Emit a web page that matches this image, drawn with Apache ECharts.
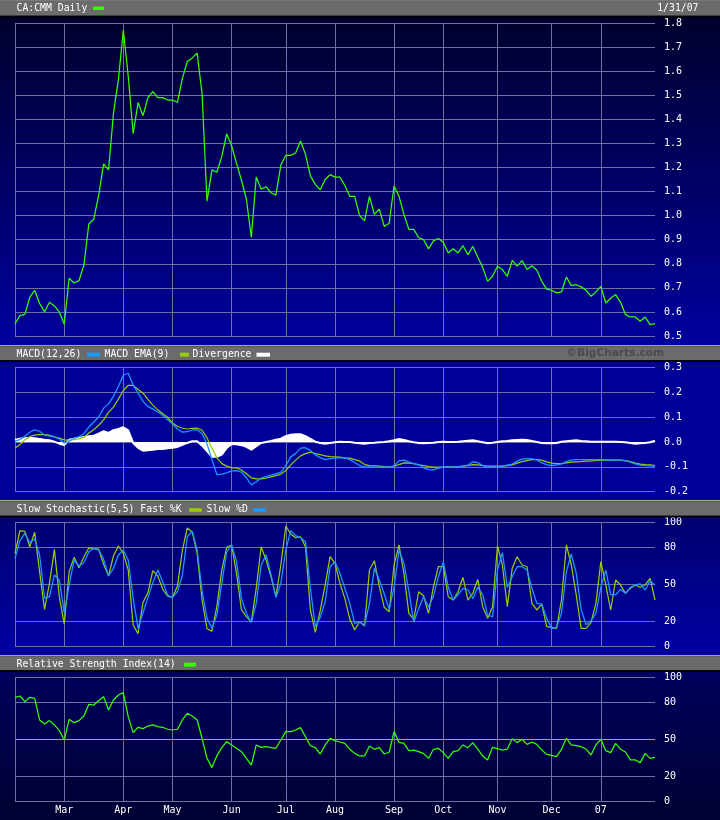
<!DOCTYPE html>
<html><head><meta charset="utf-8">
<script src="https://cdn.jsdelivr.net/npm/echarts@6/dist/echarts.min.js"></script>
<style>html,body{margin:0;padding:0;background:#000033;}#c{width:720px;height:820px;}</style>
</head><body><div id="c"></div>
<script>
// ---- data (one value every second trading day, Feb 2006 - Jan 2007) ----
const monthLabels = ['Mar','Apr','May','Jun','Jul','Aug','Sep','Oct','Nov','Dec','07'];
const monthStart = [10,22,32,44,55,65,77,87,98,109,119];
const priceTicks = [0.5,0.6,0.7,0.8,0.9,1.0,1.1,1.2,1.3,1.4,1.5,1.6,1.7,1.8];
const macdTicks = [-0.2,-0.1,0.0,0.1,0.2,0.3];
const stochTicks = [0,20,50,80,100];
const rsiTicks = [0,20,50,80,100];

const price = [0.55,0.585,0.59,0.66,0.69,0.635,0.60,0.64,0.625,0.60,
 0.55,0.74,0.72,0.73,0.795,0.965,0.985,1.085,1.215,1.19,
 1.425,1.565,1.77,1.58,1.34,1.47,1.415,1.49,1.515,1.49,
 1.49,1.48,1.48,1.47,1.57,1.64,1.655,1.675,1.505,1.06,
 1.19,1.18,1.245,1.34,1.29,1.217,1.147,1.068,0.91,1.16,
 1.11,1.12,1.095,1.085,1.21,1.25,1.25,1.26,1.31,1.255,
 1.165,1.13,1.107,1.15,1.17,1.16,1.16,1.125,1.08,1.08,
 1.0,0.978,1.08,1.005,1.027,0.955,0.968,1.124,1.08,1.005,
 0.943,0.943,0.908,0.9,0.862,0.895,0.905,0.889,0.845,0.862,
 0.845,0.875,0.838,0.872,0.828,0.785,0.727,0.748,0.79,0.776,
 0.748,0.814,0.79,0.813,0.776,0.792,0.773,0.727,0.695,0.69,
 0.679,0.683,0.745,0.709,0.713,0.704,0.69,0.665,0.683,0.706,
 0.637,0.657,0.672,0.64,0.589,0.579,0.579,0.561,0.579,0.547,
 0.551];

const macd = [0.003,0.009,0.023,0.039,0.049,0.043,0.027,0.023,0.02,0.012,
 -0.005,0.003,0.015,0.021,0.033,0.06,0.08,0.1,0.136,0.153,
 0.183,0.223,0.269,0.276,0.229,0.196,0.163,0.143,0.132,0.12,
 0.107,0.089,0.073,0.052,0.039,0.041,0.048,0.049,0.033,-0.007,
 -0.071,-0.131,-0.129,-0.124,-0.116,-0.115,-0.121,-0.144,-0.173,-0.16,
 -0.145,-0.139,-0.133,-0.128,-0.121,-0.095,-0.06,-0.047,-0.025,-0.023,
 -0.035,-0.052,-0.063,-0.071,-0.067,-0.065,-0.064,-0.064,-0.071,-0.083,
 -0.095,-0.101,-0.1,-0.101,-0.101,-0.101,-0.101,-0.096,-0.076,-0.073,
 -0.081,-0.087,-0.091,-0.104,-0.111,-0.112,-0.105,-0.101,-0.1,-0.1,
 -0.1,-0.097,-0.093,-0.08,-0.083,-0.095,-0.099,-0.1,-0.099,-0.097,
 -0.093,-0.089,-0.077,-0.069,-0.067,-0.068,-0.072,-0.084,-0.091,-0.095,
 -0.092,-0.088,-0.079,-0.073,-0.071,-0.071,-0.071,-0.071,-0.071,-0.071,
 -0.072,-0.073,-0.073,-0.073,-0.076,-0.081,-0.088,-0.093,-0.095,-0.096,
 -0.097];

const macdEma = [-0.024,-0.011,0.009,0.021,0.027,0.029,0.029,0.027,0.02,0.015,
 0.008,0.007,0.009,0.012,0.019,0.036,0.049,0.067,0.089,0.119,
 0.14,0.172,0.207,0.227,0.227,0.211,0.196,0.171,0.148,0.129,
 0.113,0.099,0.076,0.063,0.055,0.052,0.055,0.056,0.047,0.016,
 -0.024,-0.064,-0.087,-0.097,-0.104,-0.104,-0.113,-0.128,-0.144,-0.148,
 -0.148,-0.145,-0.14,-0.135,-0.129,-0.115,-0.092,-0.073,-0.056,-0.047,
 -0.041,-0.047,-0.051,-0.056,-0.059,-0.06,-0.061,-0.064,-0.065,-0.071,
 -0.077,-0.091,-0.095,-0.096,-0.097,-0.099,-0.1,-0.097,-0.091,-0.084,
 -0.085,-0.087,-0.092,-0.095,-0.099,-0.101,-0.101,-0.101,-0.1,-0.1,
 -0.099,-0.097,-0.095,-0.091,-0.092,-0.095,-0.097,-0.097,-0.097,-0.097,
 -0.095,-0.092,-0.085,-0.079,-0.075,-0.071,-0.071,-0.073,-0.08,-0.085,
 -0.087,-0.087,-0.084,-0.081,-0.08,-0.079,-0.077,-0.076,-0.075,-0.073,
 -0.073,-0.073,-0.073,-0.073,-0.075,-0.079,-0.085,-0.089,-0.091,-0.092,
 -0.095];

const divergence = [0.009,0.013,0.015,0.016,0.015,0.012,0.009,0.007,0.001,-0.007,
 -0.012,0.009,0.013,0.016,0.02,0.023,0.025,0.033,0.043,0.036,
 0.047,0.052,0.059,0.047,-0.004,-0.024,-0.035,-0.033,-0.031,-0.028,
 -0.028,-0.025,-0.023,-0.02,-0.012,-0.004,0.003,0.003,-0.015,-0.037,
 -0.06,-0.06,-0.051,-0.024,-0.008,-0.009,-0.013,-0.02,-0.031,-0.017,
 -0.004,0,0.004,0.009,0.013,0.023,0.029,0.031,0.031,0.023,
 0.012,0.001,-0.004,-0.007,-0.004,-0.001,0.001,0,0,-0.003,
 -0.005,-0.007,-0.004,-0.003,-0.001,0,0.003,0.007,0.012,0.008,
 0.003,-0.001,-0.004,-0.005,-0.004,-0.003,0,0.001,0,0,
 0.001,0.003,0.005,0.007,0.003,-0.001,-0.005,-0.003,0,0.003,
 0.004,0.007,0.008,0.009,0.008,0.004,0,-0.004,-0.005,-0.005,
 -0.004,0.001,0.003,0.005,0.007,0.004,0.003,0.001,0.001,0.001,
 0.001,0.001,0.001,0,-0.001,-0.004,-0.007,-0.005,-0.004,-0.001,
 0.005];

const fastK = [75.1,93.5,93,80.5,92.2,60.3,29.7,50.8,78.4,40,
 17.8,60.3,71.9,63.5,72.4,79.5,78.9,78.6,66.2,56.8,
 73,81.1,75.1,61.6,17,10,35.4,43.2,61.1,56.8,
 46.2,40.5,39.5,48.6,77.8,95.7,92.4,75.1,37.3,14,
 12,31.9,61.6,80,81.9,58.9,29.2,23.8,19.7,46.8,
 80.5,69.7,56.2,40,65.7,97.3,90.8,87.8,88.6,80.5,
 29.2,11,28.6,49.5,72.4,67,50.8,38.6,22,13,
 19.7,16.2,61.6,69.2,48.1,31.4,27.8,65.7,81.9,58.9,
 26.5,21.6,44,40.5,26.5,48.1,64.3,64.3,40,37.3,
 44,55.7,37.3,42.7,54,31.9,22.4,31.9,81.1,65.7,
 31.9,63,72.4,65.7,64.3,34.6,29.2,34,15.7,15.1,
 14.3,37.3,81.9,65.7,41.4,14.3,14.3,18.9,34.6,68.4,
 49.5,29.2,53.5,49.5,42.7,46.8,49.5,47.6,49.5,54.9,
 37.3];

const slowD = [71.1,85.4,91.4,83.8,86.8,73.8,38.6,40,57.6,53.5,
 27,49.5,69.7,64.9,67.6,76.5,79.2,77.8,70.3,56.8,
 63,73.8,77.8,69.7,38.6,14.3,27,39.2,51.4,61.6,
 52.2,41.1,39.5,44.1,57.6,88.6,93.2,77.8,44.6,22.4,
 14.3,25.1,50.8,76.5,81.9,68.4,38.6,26.5,18.9,34.6,
 65.7,73.8,57.6,39.5,50.8,77.8,93.5,89.5,87.8,84.6,
 46.8,15.7,23.2,35.9,64.3,68.4,58.9,46.8,34.6,18.4,
 19.7,16.8,34.6,63,53.5,42.2,29.7,47.6,77.8,67,
 44.6,19.2,30.5,40,31.4,40.5,56.2,68.4,47.6,37.3,
 41.6,46.8,45.4,38.6,47.6,41.6,25.1,23.8,61.6,75.7,
 47.6,56.2,64.3,64.3,61.6,46.8,34.6,34,22.4,14.3,
 15.1,26.5,60.3,74.6,58.9,29.7,17.3,20.5,26.5,47.6,
 61.6,41.6,41.6,45.9,42.7,47.6,49.5,50.3,45.4,53,
 49.5];

const rsi = [83.8,84.9,80.3,83.8,83,65.5,62.3,65,61.5,56.9,
 49.3,66,63.3,65,68.7,78.2,77.6,81.1,84.4,73.6,
 81.7,85.7,87.6,68.2,55.3,59.6,58.5,60.6,61.5,60.1,
 59.6,58,57.4,58,65.5,70.9,68.7,65.5,50.7,34.5,
 27,36.5,43.1,48,45.3,42.6,39.9,34.5,29,45.3,
 43.4,43.9,43.1,42.6,49.3,56.1,56.1,57.4,59.3,52,
 44.7,43.1,38,45.3,50.7,48.8,47.7,46.6,41.8,38.5,
 36.4,36.4,44.5,41.8,43.1,38,39.4,56.1,47.4,46.6,
 40.7,41.2,39.9,38.3,34.5,41.8,42.6,39.1,34.5,39.9,
 40.7,45.3,43.1,47.2,42,36.4,33.2,43.4,42.3,41.2,
 42,50.4,47.2,49.9,45.8,47.7,45.8,41.2,37.7,36.9,
 35.8,41.8,50.7,45.3,44.7,43.9,42,37.2,45.3,49.9,
 40.7,39.1,46.6,41.8,39.6,33.2,33.2,31,38.5,34.5,
 35.3];

// ---- chart ----
const GRID = '#7070a2';
const T = 'rgba(0,0,0,0)';
const GREEN = '#33ff00';
const YG = '#99cc00';
const BLUE = '#1a99ff';
const MONO = '"DejaVu Sans Mono","Liberation Mono",monospace';
const cats = price.map((_, i) => 'd' + i);
const isMonth = i => monthStart.indexOf(i) >= 0;

const gridBoxes = [[23,313],[367.3,124.4],[522.7,123.3],[677.3,123.7]];
const grids = gridBoxes.map(b => ({left:15, right:65, top:b[0], height:b[1], containLabel:false, outerBoundsMode:'none', show:false}));

function xAx(gi, showLabels) {
  return {type:'category', gridIndex:gi, data:cats, boundaryGap:false,
    axisLine:{show:false}, axisTick:{show:false},
    axisLabel:{show:showLabels, interval:(i)=>isMonth(i),
      formatter:(v,i)=>{const k=monthStart.indexOf(i); return k>=0?monthLabels[k]:'';},
      color:'#ffffff', fontFamily:MONO, fontSize:10, margin:4},
    splitLine:{show:true, interval:(i)=> i===0 || isMonth(i), lineStyle:{color:GRID, width:1}}};
}
function tickColors(ticks, min, max, step, special) {
  const out = [];
  for (let v = min; v <= max + 1e-9; v += step) {
    const r = Math.round(v*1000)/1000;
    if (special && special[r]) out.push(special[r]);
    else out.push(ticks.some(t => Math.abs(t - r) < 1e-9) ? GRID : T);
  }
  return out;
}
function yAx(gi, min, max, interval, ticks, dec, special) {
  return {type:'value', gridIndex:gi, position:'right', min:min, max:max, interval:interval,
    axisLine:{show:false}, axisTick:{show:false},
    axisLabel:{color:'#ffffff', fontFamily:MONO, fontSize:10, margin:9,
      formatter:(v)=>{
        if (!ticks.some(t => Math.abs(t - v) < 1e-9)) return '';
        if (Math.abs(v) < 1e-9) v = 0;
        return dec ? v.toFixed(dec) : String(Math.round(v));
      }},
    splitLine:{show:true, lineStyle:{color:tickColors(ticks, min, max, interval, special), width:1}}};
}

function rect(x, y, w, h, fill, z) {
  return {type:'rect', shape:{x:x, y:y, width:w, height:h}, style:{fill:fill}, z:z, silent:true};
}
function grad(c1, c2) {
  return {type:'linear', x:0, y:0, x2:0, y2:1, colorStops:[{offset:0,color:c1},{offset:1,color:c2}]};
}
function txt(s, x, y, opts) {
  opts = opts || {};
  return {type:'text', x:x, y:y, z:100, silent:true,
    style:{text:s, fill:opts.fill||'#ffffff', font:opts.font||('9.8px ' + MONO),
      textAlign:opts.align||'left', textVerticalAlign:'middle', align:opts.align||'left', verticalAlign:'middle'}};
}
function header(y0, yGrayTop, yBlack, yEnd) {
  return [rect(0, y0, 720, yGrayTop - y0, '#a4a4a4', 50),
          rect(0, yGrayTop, 720, yBlack - yGrayTop, '#6b6b6b', 50),
          rect(0, yBlack, 720, yEnd - yBlack, '#000000', 50)];
}

const graphics = [].concat(
  [rect(0, 17, 720, 328, grad('#00002c', '#00009e'), -10),
   rect(0, 362, 720, 138, '#000099', -10),
   rect(0, 517, 720, 138, grad('#000070', '#0000a2'), -10),
   rect(0, 672, 720, 148, grad('#00005e', '#000032'), -10)],
  header(0, 0.8, 15.8, 17.5),
  header(345, 346.2, 360.2, 362),
  header(500, 501.2, 515.8, 517.5),
  header(655, 656.5, 670.2, 672),
  [
    txt('CA:CMM Daily', 16.5, 8.6),
    rect(93, 6.6, 11, 3.4, GREEN, 101),
    txt('1/31/07', 698.5, 8.6, {align:'right'}),

    txt('MACD(12,26)', 16.5, 354.2),
    rect(87, 352.7, 13, 4, BLUE, 101),
    txt('MACD EMA(9)', 104.5, 354.2),
    rect(180, 352.7, 9, 4, YG, 101),
    txt('Divergence', 192.5, 354.2),
    rect(256.5, 352.7, 13.5, 4, '#ffffff', 101),
    txt('\u00a9BigCharts.com', 566.5, 353.6, {fill:'#4a4a4a', font:'bold 10.6px "DejaVu Sans", Verdana, sans-serif'}),

    txt('Slow Stochastic(5,5) Fast %K', 16.5, 509.6),
    rect(189.3, 508.2, 12.5, 3.6, YG, 101),
    txt('Slow %D', 206.5, 509.6),
    rect(253.3, 508.2, 12.5, 3.6, BLUE, 101),

    txt('Relative Strength Index(14)', 16.5, 664.6),
    rect(184, 662.7, 12, 4, GREEN, 101)
  ]
);

function lineS(xi, data, color, z) {
  return {type:'line', xAxisIndex:xi, yAxisIndex:xi, data:data, symbol:'none', showSymbol:false,
    lineStyle:{color:color, width:1.25}, itemStyle:{color:color}, z:z||3, animation:false};
}

const rsiSpecial = {50: GREEN};

const option = {
  animation:false,
  backgroundColor:'#000033',
  grid:grids,
  xAxis:[xAx(0,false), xAx(1,false), xAx(2,false), xAx(3,true)],
  yAxis:[yAx(0, 0.5, 1.8, 0.1, priceTicks, 1),
         yAx(1, -0.2, 0.3, 0.1, macdTicks, 1),
         yAx(2, 0, 100, 10, stochTicks, 0),
         yAx(3, 0, 100, 10, rsiTicks, 0, rsiSpecial)],
  graphic:{elements:graphics},
  series:[
    lineS(0, price, GREEN),
    {type:'line', xAxisIndex:1, yAxisIndex:1, data:divergence, symbol:'none', showSymbol:false,
     lineStyle:{width:2, color:'#ffffff'}, itemStyle:{color:'#ffffff'},
     areaStyle:{color:'#ffffff', opacity:1}, z:2, animation:false},
    lineS(1, macdEma, YG),
    lineS(1, macd, BLUE),
    lineS(2, fastK, YG),
    lineS(2, slowD, BLUE),
    lineS(3, rsi, GREEN)
  ]
};
const chart = echarts.init(document.getElementById('c'), null, {renderer:'canvas'});
chart.setOption(option);
</script></body></html>
